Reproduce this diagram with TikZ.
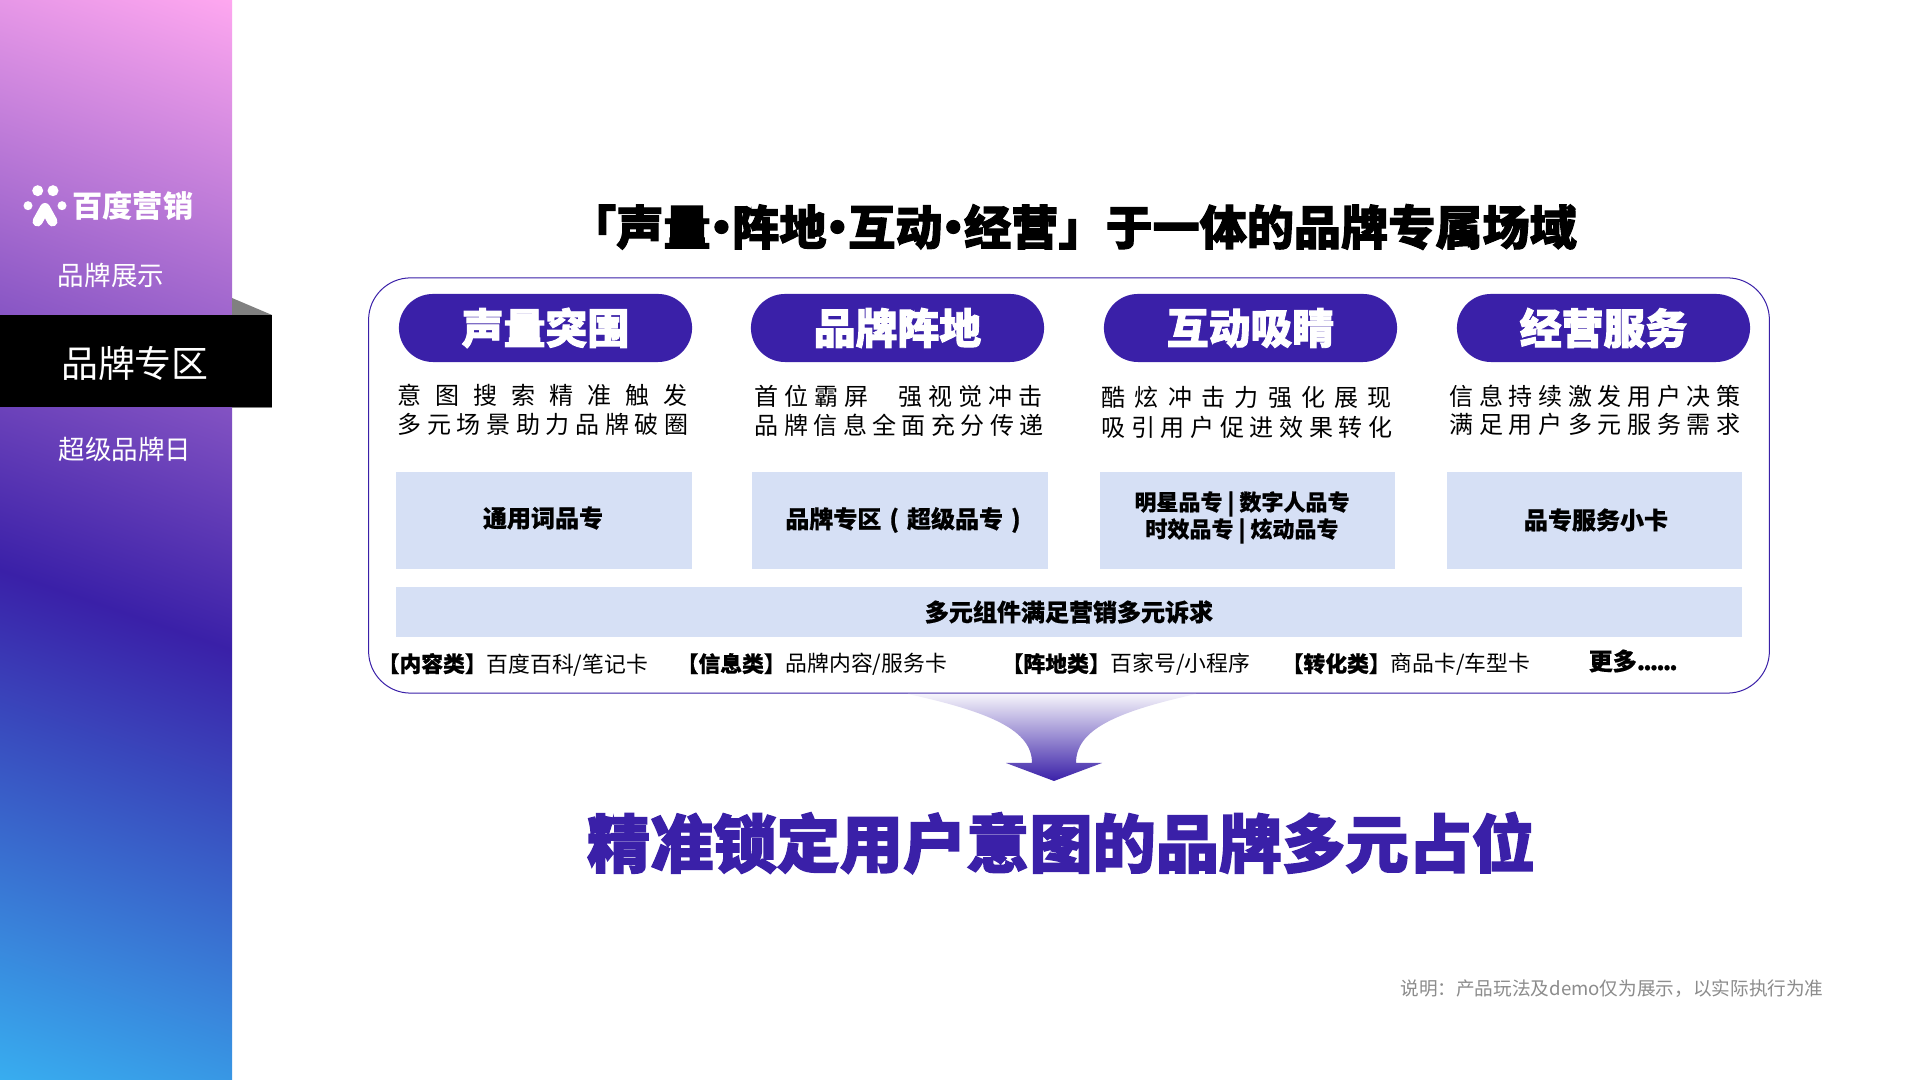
\documentclass[tikz,border=0pt]{standalone}
\usepackage{fontspec}
\setmainfont{Noto Sans CJK SC}
\newfontfamily\cjk{Noto Sans CJK SC}
\newfontfamily\cjkheavy{Noto Sans CJK SC}[BoldFeatures={FakeBold=2.2}]
\newfontfamily\cjkmid{Noto Sans CJK SC}[BoldFeatures={FakeBold=0.6}]
\definecolor{markblue}{HTML}{3A20A8}
\definecolor{cardblue}{HTML}{D6E0F5}
\definecolor{sideblue}{HTML}{38AEF0}
\definecolor{sidepink}{HTML}{FFA8F0}
\pgfdeclareverticalshading{sidefade}{100bp}{color(0bp)=(sideblue); color(25bp)=(sideblue); color(47bp)=(markblue); color(75bp)=(sidepink); color(100bp)=(sidepink)}
\newcommand{\spreadrow}[2]{{\addfontfeature{LetterSpace=#1}#2}}
\newcommand{\joindot}{\kern-0.27em·\kern-0.27em}

\begin{document}
\begin{tikzpicture} [x=0.01cm, y=-0.01cm,
	bigtitle/.style={font=\cjkheavy\bfseries\fontsize{13.4}{16}\selectfont, inner sep=0},
	goaltitle/.style={font=\cjkheavy\bfseries\fontsize{17.97}{21}\selectfont, text=markblue, inner sep=0},
	pill/.style={fill=markblue, rounded corners=0.34cm, minimum width=2.93cm, minimum height=0.68cm, text=white, inner sep=0, font=\cjkheavy\bfseries\fontsize{11.9}{14}\selectfont},
	card/.style={fill=cardblue, minimum width=2.96cm, minimum height=0.96cm, inner sep=0},
	cardtext/.style={font=\cjkmid\bfseries\fontsize{6.83}{8}\selectfont, inner sep=0},
	row/.style={font=\cjk\fontsize{6.83}{8}\selectfont, anchor=west, inner sep=0},
	kind/.style={font=\cjkmid\fontsize{6.2}{8}\selectfont, anchor=west, inner sep=0},
	menu/.style={font=\cjk\fontsize{7.54}{9}\selectfont, text=white, inner sep=0}]
		%\draw [thin, help lines] (0,0) grid (1920,1080);
		\useasboundingbox (0,0) rectangle (1920,1080);
		\fill[white] (0,0) rectangle (1920,1080);

		% side bar
		\begin{scope}
			\clip (0,0) rectangle (232,1080);
			\shade[shading=sidefade, shading angle=-19] (-434,-10) rectangle (666,1090);
		\end{scope}
		\fill[black!50] (232,298) -- (272,315) -- (232,315) -- cycle;
		\fill[black!50] (232,407) rectangle (272,408);
		\fill[black] (0,315) rectangle (272,407);
		\fill[white] (37.7,190.7) circle (5.5);
		\fill[white] (53,190.7) circle (5.5);
		\fill[white] (28,205.7) circle (4.5);
		\fill[white] (62,205.7) circle (4.5);
		\draw[white, line width=0.1cm, line cap=round, line join=round] (37.5,221.5) -- (45,208) -- (52.5,221.5);
		\node[menu, font=\cjk\bfseries\fontsize{8.6}{10}\selectfont] (logo) at (133,206) {百度营销};
		\node[menu] (show) at (111,275) {品牌展示};
		\node[menu, font=\cjk\fontsize{10.5}{12}\selectfont] (zone) at (135,363) {品牌专区};
		\node[menu] (day) at (125,449) {超级品牌日};

		\node[bigtitle] (title) at (1073,227) {「声量\joindot 阵地\joindot 互动\joindot 经营」于一体的品牌专属场域};

		\node[draw=markblue, line width=0.01cm, rounded corners=0.42cm, minimum width=14cm, minimum height=4.15cm] (frame) at (1069,485.5) {};

		% four columns
		\node[pill] (voice) at (545.5,328) {声量突围};
		\node[pill] (base) at (897.5,328) {品牌阵地};
		\node[pill] (play) at (1250.5,328) {互动吸睛};
		\node[pill] (serve) at (1603.5,328) {经营服务};

		\node[row] (voiceA) at (397,395) {\spreadrow{58.3}{意图搜索精准触发}};
		\node[row] (voiceB) at (397,424) {\spreadrow{23.3}{多元场景助力品牌破圈}};
		\node[row] (baseA) at (754,396) {\spreadrow{25}{首位霸屏}\hspace{0.3cm}\spreadrow{25}{强视觉冲击}};
		\node[row] (baseB) at (754,425) {\spreadrow{22.6}{品牌信息全面充分传递}};
		\node[row] (playA) at (1101,397) {\spreadrow{38.5}{酷炫冲击力强化展现}};
		\node[row] (playB) at (1101,427) {\spreadrow{23.3}{吸引用户促进效果转化}};
		\node[row] (serveA) at (1449,396) {\spreadrow{23.3}{信息持续激发用户决策}};
		\node[row] (serveB) at (1449,424) {\spreadrow{23.3}{满足用户多元服务需求}};

		\node[card] (voiceCard) at (544,520.5) {};
		\node[card] (baseCard) at (900,520.5) {};
		\node[card, minimum width=2.95cm] (playCard) at (1247.5,520.5) {};
		\node[card, minimum width=2.95cm] (serveCard) at (1594.5,520.5) {};
		\node[cardtext] (voiceText) at (543,518) {通用词品专};
		\node[cardtext] (baseText) at (903,520) {品牌专区\hspace{0.08cm}(\hspace{0.08cm}超级品专\hspace{0.08cm})};
		\node[cardtext, font=\cjkmid\bfseries\fontsize{6.26}{8}\selectfont] (playTextA) at (1242,504) {明星品专 | 数字人品专};
		\node[cardtext, font=\cjkmid\bfseries\fontsize{6.26}{8}\selectfont] (playTextB) at (1242,531) {时效品专 | 炫动品专};
		\node[cardtext] (serveText) at (1596,520) {品专服务小卡};

		\node[card, minimum width=13.46cm, minimum height=0.5cm] (bar) at (1069,612) {};
		\node[cardtext] (barText) at (1069,612) {多元组件满足营销多元诉求};

		\node[kind] (kindA) at (377,664.5) {\textbf{【内容类】}百度百科/笔记卡};
		\node[kind] (kindB) at (676,664.5) {\textbf{【信息类】}品牌内容/服务卡};
		\node[kind] (kindC) at (1001,664.5) {\textbf{【阵地类】}百家号/小程序};
		\node[kind] (kindD) at (1281,664.5) {\textbf{【转化类】}商品卡/车型卡};
		\node[kind, font=\cjkmid\bfseries\fontsize{6.83}{8}\selectfont] (kindE) at (1588,661) {更多{\addfontfeature{LetterSpace=-8}......}};

		% arrow down to the goal
		\shade[top color=markblue!5, middle color=markblue, bottom color=markblue] (908,694) .. controls (990,712) and (1032,730) .. (1032,763) -- (1006,763) -- (1054,781) -- (1102,763) -- (1076,763) .. controls (1076,730) and (1115,712) .. (1196,694) -- cycle;

		\node[goaltitle] (goal) at (1061,843) {精准锁定用户意图的品牌多元占位};
		\node[inner sep=0, text=black!45, font=\cjk\fontsize{5.3}{7}\selectfont] (note) at (1612,989) {说明：产品玩法及demo仅为展示，以实际执行为准};
	\end{tikzpicture}
\end{document}
